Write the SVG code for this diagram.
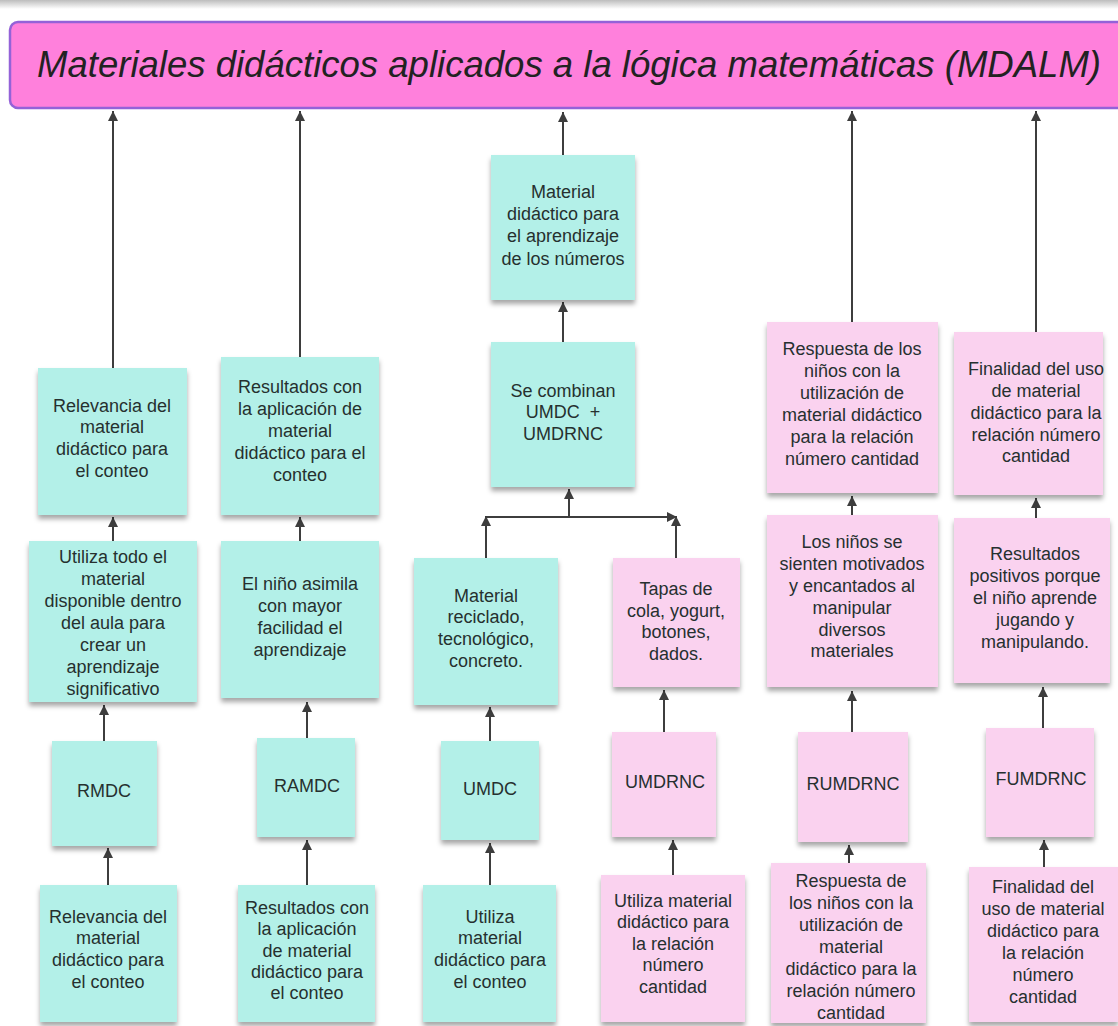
<svg xmlns="http://www.w3.org/2000/svg" width="1118" height="1026" viewBox="0 0 1118 1026">
<defs>
<linearGradient id="topbar" x1="0" y1="0" x2="0" y2="1">
<stop offset="0" stop-color="#bdbdbd"/>
<stop offset="1" stop-color="#ffffff"/>
</linearGradient>
<filter id="sh" x="-10%" y="-10%" width="120%" height="125%">
<feDropShadow dx="0" dy="4" stdDeviation="2.5" flood-color="#000" flood-opacity="0.35"/>
</filter>
<marker id="ah" viewBox="0 0 10 10" refX="10" refY="5" markerWidth="10" markerHeight="10" markerUnits="userSpaceOnUse" orient="auto">
<path d="M0,0 L10,5 L0,10 z" fill="#3d3d3d"/>
</marker>
</defs>
<style>
.t{fill:#b3f0e8;filter:url(#sh)}
.p{fill:#fad2ef;filter:url(#sh)}
text{font-family:"Liberation Sans",Arial,sans-serif;font-size:18px;fill:#26302f;text-anchor:middle}
.c line,.c path{stroke:#3d3d3d;stroke-width:2;fill:none}
.a{marker-end:url(#ah)}
</style>
<rect x="0" y="0" width="1118" height="1026" fill="#ffffff"/>
<rect x="0" y="0" width="1118" height="9" fill="url(#topbar)"/>

<g id="title">
<rect x="10" y="22" width="1130" height="86" rx="8" fill="#ff80dc" stroke="#9462d8" stroke-width="2.5"/>
<text x="37" y="77" style="font-size:36.5px;font-style:italic;text-anchor:start;fill:#222" textLength="1064" lengthAdjust="spacingAndGlyphs">Materiales didácticos aplicados a la lógica matemáticas (MDALM)</text>
</g>

<g class="c" id="connectors">
<line class="a" x1="113" y1="368" x2="113" y2="111"/>
<line class="a" x1="300" y1="357" x2="300" y2="111"/>
<line class="a" x1="563" y1="155" x2="563" y2="112"/>
<line class="a" x1="852" y1="322" x2="852" y2="111"/>
<line class="a" x1="1036" y1="332" x2="1036" y2="111"/>
<line class="a" x1="113" y1="541" x2="113" y2="517"/>
<line class="a" x1="104" y1="741" x2="104" y2="705"/>
<line class="a" x1="108" y1="885" x2="108" y2="848"/>
<line class="a" x1="300" y1="541" x2="300" y2="517"/>
<line class="a" x1="307" y1="738" x2="307" y2="702"/>
<line class="a" x1="307" y1="885" x2="307" y2="840"/>
<line class="a" x1="563" y1="342" x2="563" y2="302"/>
<line class="a" x1="569" y1="517" x2="569" y2="489"/>
<line class="a" x1="486" y1="517" x2="677" y2="517"/>
<line class="a" x1="486" y1="558" x2="486" y2="516"/>
<line class="a" x1="676" y1="558" x2="676" y2="516"/>
<line class="a" x1="490" y1="741" x2="490" y2="707"/>
<line class="a" x1="490" y1="885" x2="490" y2="843"/>
<line class="a" x1="664" y1="732" x2="664" y2="690"/>
<line class="a" x1="673" y1="875" x2="673" y2="840"/>
<line class="a" x1="852" y1="515" x2="852" y2="496"/>
<line class="a" x1="852" y1="732" x2="852" y2="691"/>
<line class="a" x1="849" y1="863" x2="849" y2="845"/>
<line class="a" x1="1036" y1="518" x2="1036" y2="498"/>
<line class="a" x1="1043" y1="728" x2="1043" y2="687"/>
<line class="a" x1="1044" y1="867" x2="1044" y2="840"/>
</g>

<g id="A1"><rect class="t" x="38" y="368" width="149" height="147"/>
<text x="112"><tspan x="112" y="412">Relevancia del</tspan><tspan x="112" y="433">material</tspan><tspan x="112" y="455">didáctico para</tspan><tspan x="112" y="477">el conteo</tspan></text></g>

<g id="A2"><rect class="t" x="29" y="541" width="168" height="161"/>
<text x="113"><tspan x="113" y="563">Utiliza todo el</tspan><tspan x="113" y="585">material</tspan><tspan x="113" y="607">disponible dentro</tspan><tspan x="113" y="629">del aula para</tspan><tspan x="113" y="651">crear un</tspan><tspan x="113" y="673">aprendizaje</tspan><tspan x="113" y="695">significativo</tspan></text></g>

<g id="A3"><rect class="t" x="52" y="741" width="105" height="105"/>
<text x="104" y="797">RMDC</text></g>

<g id="A4"><rect class="t" x="40" y="885" width="137" height="137"/>
<text x="108"><tspan x="108" y="923">Relevancia del</tspan><tspan x="108" y="944">material</tspan><tspan x="108" y="966">didáctico para</tspan><tspan x="108" y="988">el conteo</tspan></text></g>

<g id="B1"><rect class="t" x="221" y="357" width="158" height="158"/>
<text x="300"><tspan x="300" y="393">Resultados con</tspan><tspan x="300" y="415">la aplicación de</tspan><tspan x="300" y="437">material</tspan><tspan x="300" y="459">didáctico para el</tspan><tspan x="300" y="481">conteo</tspan></text></g>

<g id="B2"><rect class="t" x="221" y="541" width="158" height="157"/>
<text x="300"><tspan x="300" y="590">El niño asimila</tspan><tspan x="300" y="612">con mayor</tspan><tspan x="300" y="634">facilidad el</tspan><tspan x="300" y="656">aprendizaje</tspan></text></g>

<g id="B3"><rect class="t" x="257" y="738" width="98" height="99"/>
<text x="307" y="792">RAMDC</text></g>

<g id="B4"><rect class="t" x="238" y="885" width="137" height="137"/>
<text x="307"><tspan x="307" y="914">Resultados con</tspan><tspan x="307" y="935">la aplicación</tspan><tspan x="307" y="957">de material</tspan><tspan x="307" y="978">didáctico para</tspan><tspan x="307" y="999">el conteo</tspan></text></g>

<g id="C0"><rect class="t" x="491" y="155" width="144" height="145"/>
<text x="563"><tspan x="563" y="198">Material</tspan><tspan x="563" y="220">didáctico para</tspan><tspan x="563" y="242">el aprendizaje</tspan><tspan x="563" y="265">de los números</tspan></text></g>

<g id="C1"><rect class="t" x="491" y="342" width="144" height="145"/>
<text x="563"><tspan x="563" y="397">Se combinan</tspan><tspan x="563" y="418" style="white-space:pre">UMDC  +</tspan><tspan x="563" y="440">UMDRNC</tspan></text></g>

<g id="C2"><rect class="t" x="414" y="558" width="144" height="147"/>
<text x="486"><tspan x="486" y="602">Material</tspan><tspan x="486" y="623">reciclado,</tspan><tspan x="486" y="645">tecnológico,</tspan><tspan x="486" y="667">concreto.</tspan></text></g>

<g id="C3"><rect class="t" x="441" y="741" width="98" height="99"/>
<text x="490" y="795">UMDC</text></g>

<g id="C4"><rect class="t" x="423" y="885" width="133" height="137"/>
<text x="490"><tspan x="490" y="923">Utiliza</tspan><tspan x="490" y="944">material</tspan><tspan x="490" y="966">didáctico para</tspan><tspan x="490" y="988">el conteo</tspan></text></g>

<g id="D2"><rect class="p" x="613" y="558" width="127" height="129"/>
<text x="676"><tspan x="676" y="595">Tapas de</tspan><tspan x="676" y="617">cola, yogurt,</tspan><tspan x="676" y="638">botones,</tspan><tspan x="676" y="660">dados.</tspan></text></g>

<g id="D3"><rect class="p" x="612" y="732" width="104" height="105"/>
<text x="665" y="788">UMDRNC</text></g>

<g id="D4"><rect class="p" x="601" y="875" width="144" height="147"/>
<text x="673"><tspan x="673" y="907">Utiliza material</tspan><tspan x="673" y="928">didáctico para</tspan><tspan x="673" y="950">la relación</tspan><tspan x="673" y="971">número</tspan><tspan x="673" y="993">cantidad</tspan></text></g>

<g id="E1"><rect class="p" x="767" y="322" width="171" height="171"/>
<text x="852"><tspan x="852" y="355">Respuesta de los</tspan><tspan x="852" y="377">niños con la</tspan><tspan x="852" y="399">utilización de</tspan><tspan x="852" y="421">material didáctico</tspan><tspan x="852" y="443">para la relación</tspan><tspan x="852" y="465">número cantidad</tspan></text></g>

<g id="E2"><rect class="p" x="767" y="515" width="171" height="172"/>
<text x="852"><tspan x="852" y="548">Los niños se</tspan><tspan x="852" y="570">sienten motivados</tspan><tspan x="852" y="592">y encantados al</tspan><tspan x="852" y="614">manipular</tspan><tspan x="852" y="636">diversos</tspan><tspan x="852" y="657">materiales</tspan></text></g>

<g id="E3"><rect class="p" x="798" y="732" width="110" height="110"/>
<text x="853" y="790">RUMDRNC</text></g>

<g id="E4"><rect class="p" x="771" y="863" width="155" height="160"/>
<text x="851"><tspan x="851" y="887">Respuesta de</tspan><tspan x="851" y="909">los niños con la</tspan><tspan x="851" y="931">utilización de</tspan><tspan x="851" y="953">material</tspan><tspan x="851" y="975">didáctico para la</tspan><tspan x="851" y="997">relación número</tspan><tspan x="851" y="1019">cantidad</tspan></text></g>

<g id="F1"><rect class="p" x="954" y="332" width="149" height="163"/>
<text x="1036"><tspan x="1036" y="375">Finalidad del uso</tspan><tspan x="1036" y="397">de material</tspan><tspan x="1036" y="419">didáctico para la</tspan><tspan x="1036" y="441">relación número</tspan><tspan x="1036" y="462">cantidad</tspan></text></g>

<g id="F2"><rect class="p" x="954" y="518" width="156" height="165"/>
<text x="1035"><tspan x="1035" y="560">Resultados</tspan><tspan x="1035" y="582">positivos porque</tspan><tspan x="1035" y="604">el niño aprende</tspan><tspan x="1035" y="626">jugando y</tspan><tspan x="1035" y="648">manipulando.</tspan></text></g>

<g id="F3"><rect class="p" x="986" y="728" width="108" height="109"/>
<text x="1041" y="785">FUMDRNC</text></g>

<g id="F4"><rect class="p" x="969" y="867" width="149" height="155"/>
<text x="1043"><tspan x="1043" y="893">Finalidad del</tspan><tspan x="1043" y="915">uso de material</tspan><tspan x="1043" y="937">didáctico para</tspan><tspan x="1043" y="959">la relación</tspan><tspan x="1043" y="981">número</tspan><tspan x="1043" y="1003">cantidad</tspan></text></g>
</svg>
